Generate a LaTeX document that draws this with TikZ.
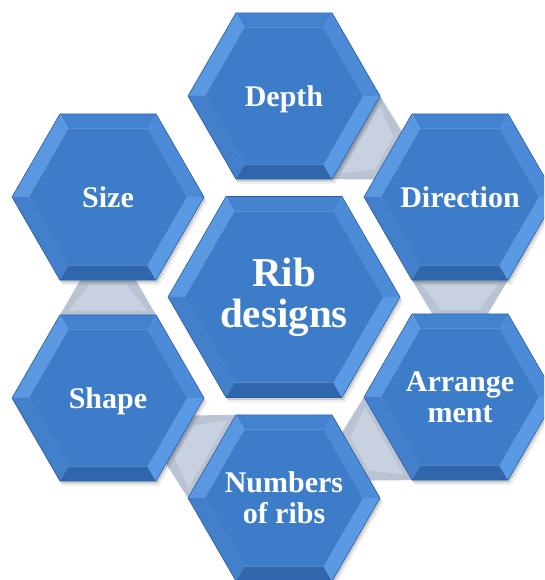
\documentclass[tikz,border=0pt]{standalone}
\usepackage{fontspec}
\setmainfont{Liberation Serif}
\usepackage{tikz}
\usetikzlibrary{
    calc,
    backgrounds
}

\definecolor{hexFace}{HTML}{3D7CC9}
\definecolor{hexTop}{HTML}{4282CF}
\definecolor{hexUL}{HTML}{5A98E2}
\definecolor{hexLL}{HTML}{4380CC}
\definecolor{hexBot}{HTML}{2F66AC}
\definecolor{hexLR}{HTML}{5A9AE4}
\definecolor{hexUR}{HTML}{4C8BD8}
\definecolor{hexEdge}{HTML}{2A5C9E}
\definecolor{linkBase}{HTML}{B9C3D3}
\definecolor{linkLight}{HTML}{C8D1DF}

\begin{document}
\begin{tikzpicture}[x=1pt, y=1pt,
    hexlabel/.style={text=white, font=\fontsize{30}{31}\selectfont\bfseries,
                     align=center, inner sep=0pt, text depth=0pt},
    riblabel/.style={text=white, font=\fontsize{41}{41}\selectfont\bfseries,
                     align=center, inner sep=0pt},
    link/.style={fill=linkBase},
    linkin/.style={fill=linkLight},
    hexcell/.pic={
      % shadow
      \fill[black, opacity=0.07, shift={(3,-5)}]
        (0:#1) -- (60:#1) -- (120:#1) -- (180:#1) -- (240:#1) -- (300:#1) -- cycle;
      \fill[black, opacity=0.14, shift={(1.5,-2.5)}]
        (0:#1) -- (60:#1) -- (120:#1) -- (180:#1) -- (240:#1) -- (300:#1) -- cycle;
      % bevel facets
      \foreach \a/\c in {0/hexUR, 60/hexTop, 120/hexUL, 180/hexLL, 240/hexBot, 300/hexLR}
        \fill[\c] (\a:#1) -- ({\a+60}:#1) -- ({\a+60}:{#1-17}) -- (\a:{#1-17}) -- cycle;
      % face
      \fill[hexFace] (0:{#1-17}) -- (60:{#1-17}) -- (120:{#1-17}) -- (180:{#1-17})
        -- (240:{#1-17}) -- (300:{#1-17}) -- cycle;
      \draw[hexEdge, line width=0.6pt]
        (0:#1) -- (60:#1) -- (120:#1) -- (180:#1) -- (240:#1) -- (300:#1) -- cycle;
    }]

    \useasboundingbox (0,0) rectangle (544,580);
    \clip (0,0) rectangle (544,580);

    % Central hexagon
    \pic at (284,283) {hexcell=116};
    \node[riblabel] (rib) at (284,283) {Rib\\designs};

    % Ring of hexagons
    \pic at (284,484) {hexcell=96};
    \node[hexlabel] (depth) at (284,484) {Depth};

    \pic at (460,383) {hexcell=96};
    \node[hexlabel] (direction) at (460,383) {Direction};

    \pic at (460,183) {hexcell=96};
    \node[hexlabel] (arrangement) at (460,183) {Arrange\\ment};

    \pic at (284,82) {hexcell=96};
    \node[hexlabel] (numbers) at (284,82) {Numbers\\of ribs};

    \pic at (108,182) {hexcell=96};
    \node[hexlabel] (shape) at (108,182) {Shape};

    \pic at (108,383) {hexcell=96};
    \node[hexlabel] (size) at (108,383) {Size};

    % Tapered links between neighbours
    \begin{scope}[on background layer]
      \foreach \src/\dst/\t in {depth/direction/-30, direction/arrangement/-90,
                               arrangement/numbers/-150, numbers/shape/150, shape/size/90}{
        \coordinate (p1) at ($(\src)+({\t-30}:96)$);
        \coordinate (p2) at ($(\src)+({\t+30}:96)$);
        \coordinate (q2) at ($(\dst)+({\t+150}:96)$);
        \coordinate (q1) at ($(\dst)+({\t-150}:96)$);
        \coordinate (f2) at ($(q2)!0.21!(q1)$);
        \coordinate (f1) at ($(q1)!0.21!(q2)$);
        \fill[link] (p1) -- (p2) -- (f2) -- (f1) -- cycle;
        \fill[linkin] ($(p1)!0.12!(f2)$) -- ($(p2)!0.12!(f1)$)
          -- ($(f2)!0.12!(p1)$) -- ($(f1)!0.12!(p2)$) -- cycle;
      }
    \end{scope}

\end{tikzpicture}
\end{document}
